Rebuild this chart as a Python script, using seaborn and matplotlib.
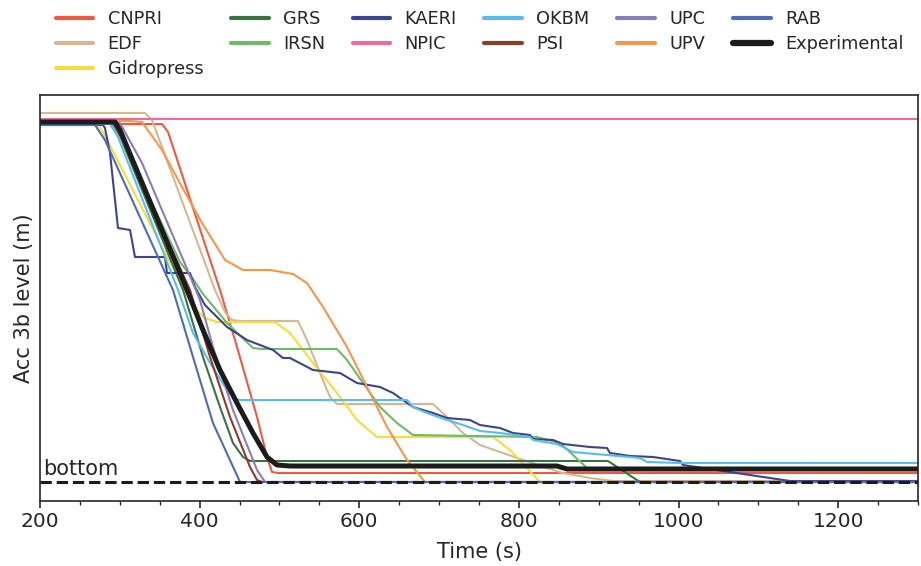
import numpy as np
import pandas as pd
import matplotlib
matplotlib.use('Agg')
import matplotlib.pyplot as plt
import seaborn as sns

sns.set_style('ticks')
plt.rcParams['font.family'] = ['DejaVu Sans']

# time (s) / level (m), bottom of accumulator = 0
cnpri_t = [200, 352.8, 360.4, 425.5, 446.8, 471.9, 484.4, 490.6, 498.2, 1300]
cnpri_v = [3.58, 3.58, 3.50, 1.92, 1.35, 0.65, 0.25, 0.10, 0.09, 0.09]

edf_t = [200, 331.5, 340.3, 419.2, 431.8, 440.5, 450.6, 523.2, 534.5, 550.8, 563.3, 572.1,
         692.4, 709.9, 729.9, 751.2, 776.3, 805.1, 835.2, 855.2, 889.0, 917.9, 1300]
edf_v = [3.69, 3.69, 3.62, 1.92, 1.70, 1.62, 1.61, 1.61, 1.42, 1.09, 0.85, 0.78,
         0.78, 0.65, 0.49, 0.37, 0.30, 0.22, 0.14, 0.09, 0.04, 0.01, 0.01]

gidro_t = [200, 271.4, 278.9, 391.7, 406.7, 421.7, 494.4, 513.2, 542.0, 572.1, 597.1, 622.2,
           767.5, 788.8, 807.6, 826.4, 1300]
gidro_v = [3.58, 3.58, 3.50, 1.75, 1.64, 1.60, 1.60, 1.49, 1.19, 0.89, 0.62, 0.45,
           0.45, 0.32, 0.16, 0.0, 0.0]

grs_t = [200, 290.2, 300.2, 379.2, 404.2, 425.5, 441.8, 454.3, 463.1, 475.6, 911.6, 951.7, 1300]
grs_v = [3.59, 3.59, 3.46, 1.92, 1.25, 0.75, 0.39, 0.25, 0.21, 0.21, 0.21, 0.0, 0.0]

irsn_t = [200, 290.2, 300.2, 375.4, 394.2, 404.2, 434.3, 466.8, 478.1, 572.1, 584.6, 604.7, 626.0,
          647.2, 667.3, 822.6, 851.5, 885.3, 1300]
irsn_v = [3.59, 3.59, 3.46, 2.20, 2.00, 1.88, 1.59, 1.34, 1.33, 1.33, 1.22, 0.99, 0.75,
          0.59, 0.47, 0.45, 0.39, 0.14, 0.14]

kaeri_t = [200, 278.9, 281.4, 287.7, 297.7, 312.8, 319.0, 356.6, 359.1, 387.9, 394.2, 406.7, 419.2,
           434.3, 459.3, 475.6, 491.9, 504.4, 513.2, 542.0, 575.8, 597.1, 626.0, 642.2, 667.3,
           692.4, 709.9, 738.7, 751.2, 776.3, 792.6, 813.9, 817.6, 842.7, 855.2, 889.0, 910.3,
           914.1, 939.2, 968.0, 1001.8, 1005.5, 1139.6, 1300]
kaeri_v = [3.57, 3.57, 3.54, 3.29, 2.54, 2.52, 2.25, 2.25, 2.09, 2.09, 1.95, 1.77, 1.67,
           1.55, 1.42, 1.37, 1.32, 1.24, 1.24, 1.12, 1.09, 0.99, 0.95, 0.89, 0.75,
           0.69, 0.64, 0.62, 0.57, 0.54, 0.49, 0.47, 0.43, 0.42, 0.38, 0.35, 0.34,
           0.29, 0.26, 0.25, 0.21, 0.17, 0.01, 0.01]

npic_t = [200, 1300]
npic_v = [3.63, 3.63]

okbm_t = [200, 287.7, 297.7, 372.9, 391.7, 413.0, 434.3, 444.3, 450.6, 659.8, 667.3, 684.8, 709.9,
          729.9, 751.2, 776.3, 813.9, 817.6, 847.7, 867.7, 910.3, 951.7, 960.4, 1001.8, 1300]
okbm_v = [3.58, 3.58, 3.45, 1.92, 1.49, 1.19, 0.92, 0.83, 0.82, 0.82, 0.75, 0.69, 0.62,
          0.57, 0.51, 0.49, 0.45, 0.42, 0.38, 0.30, 0.27, 0.24, 0.20, 0.19, 0.19]

psi_t = [200, 291.5, 301.5, 387.9, 413.0, 438.0, 463.1, 471.9, 478.1, 1300]
psi_v = [3.59, 3.59, 3.45, 1.92, 1.25, 0.65, 0.15, 0.02, 0.0, 0.0]

upc_t = [200, 300.2, 327.8, 352.8, 377.9, 400.4, 416.7, 441.8, 471.9, 481.9, 1300]
upc_v = [3.59, 3.59, 3.19, 2.72, 2.25, 1.82, 1.35, 0.72, 0.12, 0.0, 0.0]

upv_t = [200, 312.8, 327.8, 352.8, 377.9, 403.0, 431.8, 454.3, 488.1, 517.0, 534.5, 554.5, 584.6,
         609.7, 634.7, 659.8, 682.3, 1300]
upv_v = [3.61, 3.61, 3.60, 3.32, 2.95, 2.59, 2.22, 2.12, 2.12, 2.08, 1.99, 1.75, 1.35,
         0.95, 0.55, 0.22, 0.0, 0.0]

rab_t = [200, 268.9, 281.4, 366.6, 391.7, 416.7, 450.6, 1300]
rab_v = [3.57, 3.57, 3.42, 1.92, 1.25, 0.59, 0.0, 0.0]

exp_t = [200, 294.0, 300.2, 384.2, 404.2, 425.5, 446.8, 466.8, 484.4, 496.9, 513.2,
         847.7, 860.2, 1300]
exp_v = [3.60, 3.60, 3.52, 1.92, 1.52, 1.12, 0.79, 0.49, 0.25, 0.17, 0.16,
         0.16, 0.13, 0.13]

series = {
    'CNPRI': (cnpri_t, cnpri_v),
    'EDF': (edf_t, edf_v),
    'Gidropress': (gidro_t, gidro_v),
    'GRS': (grs_t, grs_v),
    'IRSN': (irsn_t, irsn_v),
    'KAERI': (kaeri_t, kaeri_v),
    'NPIC': (npic_t, npic_v),
    'OKBM': (okbm_t, okbm_v),
    'PSI': (psi_t, psi_v),
    'UPC': (upc_t, upc_v),
    'UPV': (upv_t, upv_v),
    'RAB': (rab_t, rab_v),
    'Experimental': (exp_t, exp_v),
}

colors = {'CNPRI': '#ec5a44',
          'EDF': '#d4b896',
          'Gidropress': '#f8dc3c',
          'GRS': '#3c7047',
          'IRSN': '#6dba6b',
          'KAERI': '#3e4489',
          'NPIC': '#ef6aa0',
          'OKBM': '#58bdea',
          'PSI': '#8e3b2c',
          'UPC': '#8b7db8',
          'UPV': '#f6964a',
          'RAB': '#4e6cb4',
          'Experimental': '#1c1c1c',
         }

fig = plt.figure(figsize=(9.21, 5.66), dpi=100)
ax = fig.add_axes([40/921, 1-501/566, 878/921, 406/566])

for name, (t, v) in series.items():
    df = pd.DataFrame({'t': t, 'v': v})
    lw = 3.6 if name == 'Experimental' else 1.5
    sns.lineplot(data=df, x='t', y='v', ax=ax, color=colors[name], lw=lw,
                 label=name, sort=False, estimator=None)

ax.axhline(0, color='#1c1c1c', ls='--', lw=2.2, zorder=5)
ax.text(204, 0.03, 'bottom', fontsize=15, color='#262626', va='bottom', ha='left')

ax.set_xlim(200, 1300)
ax.set_ylim(-0.19, 3.87)
ax.set_yticks([])
ax.set_xticks(np.arange(200, 1301, 200))
ax.set_xticks(np.arange(200, 1301, 50), minor=True)
ax.tick_params(axis='x', which='major', labelsize=14.5, length=5, width=1.2, colors='#262626', pad=3)
ax.tick_params(axis='x', which='minor', length=3, width=1.0, colors='#262626')
ax.set_xlabel('Time (s)', fontsize=15, color='#262626', labelpad=8)
ax.set_ylabel('Acc 3b level (m)', fontsize=15, color='#262626', labelpad=4)
for sp in ax.spines.values():
    sp.set_visible(True)
    sp.set_linewidth(1.2)
    sp.set_color('#262626')

handles, labels = ax.get_legend_handles_labels()
ax.legend_.remove()
leg = fig.legend(handles, labels, ncol=6, loc='upper left', bbox_to_anchor=(0.043, 1.01),
                 frameon=False, fontsize=12.8, handlelength=2.13, columnspacing=1.55,
                 labelspacing=0.38, handletextpad=0.8)
for h in leg.legend_handles:
    h.set_linewidth(3.0 if h.get_label() != 'Experimental' else 4.5)

fig.savefig('out.png', dpi=100)
